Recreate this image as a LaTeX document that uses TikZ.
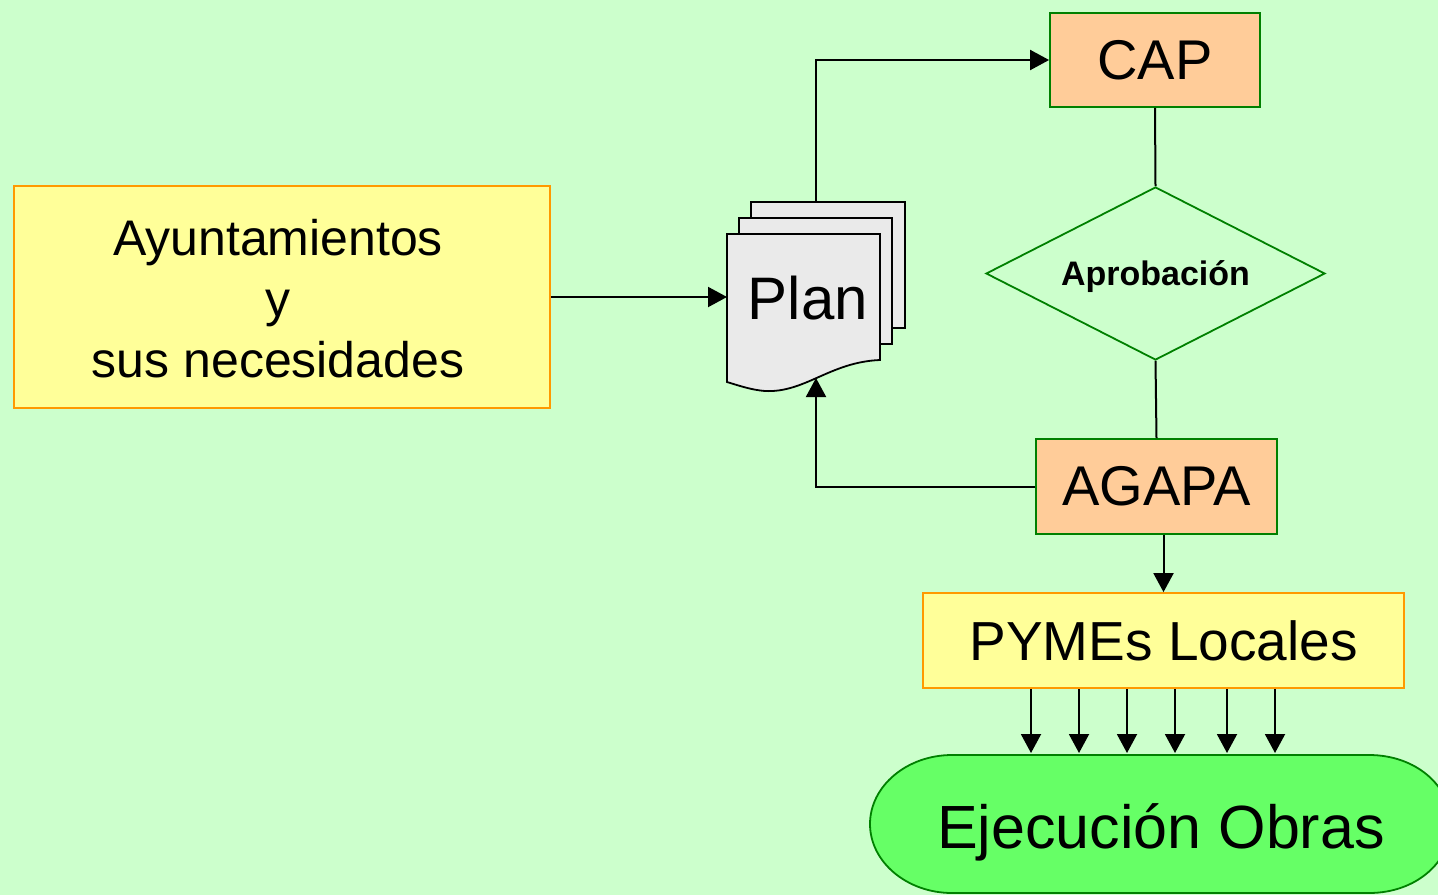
\documentclass[tikz,border=0pt]{standalone}
\usepackage{fontspec}
\setmainfont{Liberation Sans}
\usetikzlibrary{arrows.meta,shapes.geometric}
\definecolor{bgc}{HTML}{CCFFCC}
\definecolor{yel}{HTML}{FFFF99}
\definecolor{orb}{HTML}{FF9900}
\definecolor{peach}{HTML}{FFCC99}
\definecolor{gb}{HTML}{008000}
\definecolor{lg}{HTML}{66FF66}
\definecolor{docf}{HTML}{EAEAEA}
\tikzset{
  x=1pt, y=-1pt,
  ybox/.style={draw=orb, fill=yel, line width=1.8pt, inner sep=0pt},
  pbox/.style={draw=gb, fill=peach, line width=1.8pt, inner sep=0pt},
  conn/.style={draw=black, line width=2pt},
  arr/.style={conn, -{Triangle[length=19pt,width=20pt]}},
  docpage/.style={draw=black, fill=docf, line width=1.8pt},
}
\begin{document}
\begin{tikzpicture}
\useasboundingbox (0,0) rectangle (1438,895);
\clip (0,0) rectangle (1438,895);
\fill[bgc] (0,0) rectangle (1438,895);

% Ayuntamientos
\node[ybox, minimum width=536pt, minimum height=222pt] (ayu) at (282,297) {};
\node[align=center, font=\fontsize{50}{61}\selectfont] (ayut) at (278,299) {Ayuntamientos\\y\\sus necesidades};

% Plan multi-document
\draw[docpage] (751,202) rectangle (905,328);
\draw[docpage] (739,218) rectangle (892,344);
\draw[docpage] (727,234) -- (880,234) -- (880,360)
  .. controls (830,362) and (805,393) .. (765,391)
  .. controls (752,390) and (740,386) .. (727,382) -- cycle;
\node[font=\fontsize{60}{60}\selectfont] (plan) at (808,298) {Plan};
\coordinate (planleft) at (727,297);
\coordinate (plantop) at (816,202);
\coordinate (planbot) at (816,378);

% CAP
\node[pbox, minimum width=210pt, minimum height=94pt, font=\fontsize{56}{56}\selectfont] (cap) at (1155,60) {CAP};

% Aprobacion
\node[draw=gb, line width=1.8pt, diamond, aspect=1.96, inner sep=0pt, minimum width=339pt, minimum height=173pt] (apro) at (1155.5,273.5) {};
\node[font=\bfseries\fontsize{34}{34}\selectfont] (aprot) at (1155.5,277) {Aprobación};

% AGAPA
\node[pbox, minimum width=241pt, minimum height=95pt, font=\fontsize{56}{56}\selectfont] (agapa) at (1156.5,486.5) {AGAPA};

% PYMEs
\node[ybox, minimum width=481pt, minimum height=95pt, font=\fontsize{55}{55}\selectfont] (pymes) at (1163.5,640.5) {PYMEs Locales};

% Ejecucion Obras
\draw[draw=gb, fill=lg, line width=1.8pt] (952,755) -- (1369,755)
  .. controls (1416,755) and (1451,786) .. (1451,824)
  .. controls (1451,862) and (1416,893) .. (1369,893)
  -- (952,893)
  .. controls (907,893) and (870,862) .. (870,824)
  .. controls (870,786) and (907,755) .. (952,755) -- cycle;
\node[font=\fontsize{61}{61}\selectfont] (obras) at (1161,832) {Ejecución Obras};
\coordinate (obrastop) at (1161,753);

% connectors
\draw[arr] (ayu.east) -- (planleft);
\draw[arr] (plantop) |- (cap.west);
\draw[conn] (cap.south) -- (apro.north);
\draw[conn] (apro.south) -- (agapa.north);
\draw[arr] (agapa.west) -| (planbot);
\draw[arr] (agapa.south -| pymes.north) -- (pymes.north);
\foreach \x in {1031,1079,1127,1175,1227,1275}
  \draw[arr] (pymes.south -| \x,0) -- (obrastop -| \x,0);
\end{tikzpicture}
\end{document}
